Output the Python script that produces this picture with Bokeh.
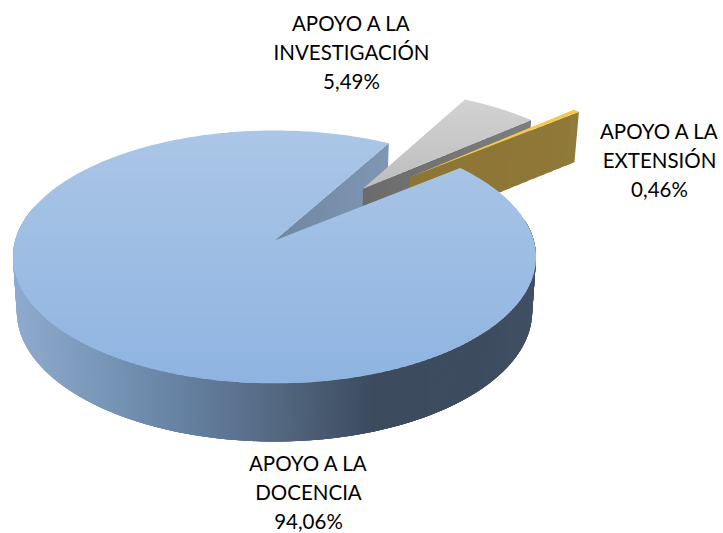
import math
from bokeh.plotting import figure
from bokeh.models import ColumnDataSource, Range1d
from bokeh.core.properties import value
from bokeh.embed import file_html
from bokeh.resources import INLINE

categories = ["APOYO A LA DOCENCIA", "APOYO A LA INVESTIGACIÓN", "APOYO A LA EXTENSIÓN"]
shares = [94.06, 5.49, 0.46]
share_labels = ["94,06%", "5,49%", "0,46%"]

# projection of the pie's disc onto the page (page pixels)
CX, CY_T, CY_B = 274.0, 240.0, 294.0
K = 0.130
W_T, A_T = 259.3, 124.3
W_B, A_B = 255.5, 127.9
START = 50.8
EXPLODE = [(0.0, 0.0), (39.3, 0.57), (45.7, 0.78)]
RADII = [1.0, 1.02, 1.03]

def top(u, v):
    d = 1 + K * v
    return CX + W_T * u / d, CY_T - A_T * v / d

def bot(u, v):
    d = 1 + K * v
    return CX + W_B * u / d, CY_B - A_B * v / d

def unit(a):
    r = math.radians(a)
    return math.sin(r), math.cos(r)

def rim(a, i, f=top):
    s, c = unit(a)
    o = offset(i)
    return f(o[0] + RADII[i] * s, o[1] + RADII[i] * c)

def offset(i):
    a, r = EXPLODE[i]
    s, c = unit(a)
    return r * s, r * c

def hexrgb(h):
    return tuple(int(h[i:i + 2], 16) for i in (1, 3, 5))

def mix(c0, c1, t):
    t = max(0.0, min(1.0, t))
    a, b = hexrgb(c0), hexrgb(c1)
    return "#%02x%02x%02x" % tuple(round(a[i] + (b[i] - a[i]) * t) for i in range(3))

def ramp(stops, x):
    if x <= stops[0][0]:
        return stops[0][1]
    for (x0, c0), (x1, c1) in zip(stops, stops[1:]):
        if x <= x1:
            return mix(c0, c1, (x - x0) / (x1 - x0))
    return stops[-1][1]

def clip_y(poly, ylim, keep_below):
    out = []
    inside = (lambda p: p[1] >= ylim) if keep_below else (lambda p: p[1] <= ylim)
    for i, cur in enumerate(poly):
        prev = poly[i - 1]
        if inside(cur) != inside(prev):
            t = (ylim - prev[1]) / (cur[1] - prev[1])
            out.append((prev[0] + t * (cur[0] - prev[0]), ylim))
        if inside(cur):
            out.append(cur)
    return out

XS, YS, COLS = [], [], []

def add(poly, color):
    if len(poly) >= 3:
        XS.append([p[0] for p in poly])
        YS.append([p[1] for p in poly])
        COLS.append(color)

def bands(poly, c0, c1, step=2.0):
    ys = [p[1] for p in poly]
    lo, hi = min(ys), max(ys)
    y = lo
    while y < hi:
        t = (y - lo) / max(hi - lo, 1)
        piece = clip_y(clip_y(poly, y + step, False), y - 0.6, True)
        add(piece, mix(c0, c1, t))
        y += step

def sweep(p0t, p1t, p0b, p1b, color_of, n):
    """Quad between two top and two bottom points, cut into n coloured strips."""
    for j in range(n):
        t0, t1 = j / n, min(1.0, (j + 1.4) / n)
        a = (p0t[0] + (p1t[0] - p0t[0]) * t0, p0t[1] + (p1t[1] - p0t[1]) * t0)
        b = (p0t[0] + (p1t[0] - p0t[0]) * t1, p0t[1] + (p1t[1] - p0t[1]) * t1)
        c = (p0b[0] + (p1b[0] - p0b[0]) * t1, p0b[1] + (p1b[1] - p0b[1]) * t1)
        d = (p0b[0] + (p1b[0] - p0b[0]) * t0, p0b[1] + (p1b[1] - p0b[1]) * t0)
        add([a, b, c, d], color_of((a[0] + b[0]) / 2))

# slice angles from the shares
total = sum(shares)
edges = [START]
for s in shares:
    edges.append(edges[-1] + s / total * 360.0)

blue_a0, blue_a1 = edges[0], edges[1]
grey_a0, grey_a1 = edges[1] - 360.0, edges[2] - 360.0
gold_a0, gold_a1 = edges[2] - 360.0, edges[3] - 360.0

# docencia: cut face seen through the gap
sweep(top(0, 0), rim(blue_a1, 0), bot(0, 0), rim(blue_a1, 0, bot),
      lambda x: ramp([(275, "#6f87a2"), (390, "#8097b4")], x), 24)

# investigación
G = offset(1)
grey_top = [top(*G)] + [rim(grey_a0 + (grey_a1 - grey_a0) * j / 24, 1) for j in range(25)]
sweep(top(*G), rim(grey_a1, 1), bot(*G), rim(grey_a1, 1, bot),
      lambda x: ramp([(363, "#6b6b6b"), (531, "#7e7e7e")], x), 30)
bands(grey_top, "#d2d2d2", "#bdbdbd")

# extensión
E = offset(2)
sweep(top(*E), rim(gold_a1, 2), bot(*E), rim(gold_a1, 2, bot),
      lambda x: ramp([(410, "#8d7534"), (572, "#8f7838"), (578, "#948040")], x), 20)
gold_top = [top(*E)] + [rim(gold_a0 + (gold_a1 - gold_a0) * j / 4, 2) for j in range(5)]
add(gold_top, "#f3c94e")

# docencia: outer wall, front half
WALL = [(12, "#8fabce"), (100, "#7896b7"), (190, "#637e9e"), (280, "#52667f"),
        (370, "#3c4b5e"), (480, "#3d4c5f"), (535, "#425164")]
a = 80.0
while a < 285.0:
    b = a + 2.0
    p0, p1 = rim(a, 0), rim(b, 0)
    q0, q1 = rim(a, 0, bot), rim(b, 0, bot)
    add([p0, p1, q1, q0], ramp(WALL, (p0[0] + p1[0]) / 2))
    a += 0.5

# docencia: top face
blue_top = [top(0, 0)] + [rim(blue_a0 + (blue_a1 - blue_a0) * j / 360, 0) for j in range(361)]
bands(blue_top, "#abc6e6", "#8fb4e1")

p = figure(width=723, height=533, x_range=Range1d(0, 723), y_range=Range1d(533, 0),
           toolbar_location=None, output_backend="svg", min_border=0,
           x_axis_type=None, y_axis_type=None, outline_line_color=None)
p.grid.visible = False
p.patches("xs", "ys", fill_color="color", line_color=None,
          source=ColumnDataSource(dict(xs=XS, ys=YS, color=COLS)))

# labels, one line per text
def label_lines(i):
    head, tail = categories[i].rsplit(" ", 1)
    return [head, tail, share_labels[i]]

anchors = [(308, 462), (351, 22), (659, 130)]
tx, ty, tt = [], [], []
for i, (ax, ay) in enumerate(anchors):
    for j, line in enumerate(label_lines(i)):
        tx.append(ax)
        ty.append(ay + 29 * j)
        tt.append(line)
p.text(tx, ty, text=tt, text_font=value("Lato"), text_font_size="20.5px",
       text_color="#000000", text_align="center", text_baseline="middle")

open("out.html", "w").write(file_html(p, INLINE))
